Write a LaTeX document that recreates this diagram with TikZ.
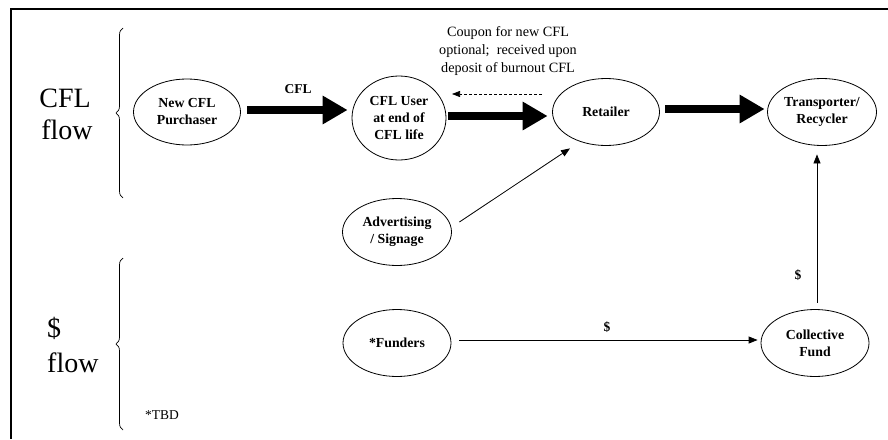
\documentclass[tikz,border=0pt]{standalone}
\usepackage{fontspec}
\setmainfont{Liberation Serif}
\usetikzlibrary{shapes.geometric,arrows.meta,decorations.pathreplacing}
\tikzset{
  ell/.style={draw, ellipse, line width=0.8pt, inner sep=0pt, align=center,
    font=\fontsize{13.8}{17}\selectfont\bfseries},
  bigarrow/.style={line width=8pt, -{Triangle[length=25pt,width=27pt]}},
  thinarrow/.style={line width=0.8pt, -{Triangle[length=9pt,width=7pt]}},
  lbl/.style={font=\fontsize{13.5}{17}\selectfont\bfseries, inner sep=0pt},
  big/.style={font=\fontsize{28}{32}\selectfont, inner sep=0pt},
  brc/.style={decorate, decoration={brace, amplitude=7pt}, line width=0.7pt},
}
\begin{document}
\begin{tikzpicture}[x=1pt,y=-1pt]
\useasboundingbox (0,0) rectangle (888,439);
\draw[line width=1.6pt] (888,9) -- (11,9) -- (11,439);

% side labels
\node[big, anchor=base] (t1) at (65,107) {CFL};
\node[big, anchor=base] (t2) at (67,139) {flow};
\node[big, anchor=base west] (t3) at (47,337) {\$};
\node[big, anchor=base west] (t4) at (47,372) {flow};
\node[font=\fontsize{13.5}{16}\selectfont, anchor=base west, inner sep=0pt] (tbd) at (145,419) {*TBD};

% braces
\draw[brc] (123,198) -- (123,28);
\draw[brc] (123,430) -- (123,258);

% nodes
\node[ell, minimum width=107pt, minimum height=66pt] (ncp) at (187,112) {New CFL\\Purchaser};
\node[ell, minimum width=94pt, minimum height=84pt] (user) at (399,118) {CFL User\\at end of\\CFL life};
\node[ell, minimum width=107pt, minimum height=67pt] (ret) at (606,112) {Retailer};
\node[ell, minimum width=109pt, minimum height=67pt] (trans) at (822,112) {Transporter/\\Recycler};
\node[ell, minimum width=109pt, minimum height=67pt] (adv) at (397,232) {Advertising\\/ Signage};
\node[ell, minimum width=108pt, minimum height=67pt] (fund) at (397,343) {*Funders};
\node[ell, minimum width=108pt, minimum height=67pt] (coll) at (815,343) {Collective\\Fund};

% big arrows
\draw[bigarrow] ([xshift=6.5pt,yshift=2pt]ncp.east) -- ([xshift=-4pt,yshift=2pt]ncp.east -| user.west);
\node[lbl] (lcfl) at (298,89) {CFL};
\draw[bigarrow] ([xshift=2pt,yshift=2pt]user.east) -- ([xshift=-4.5pt,yshift=2pt]user.east -| ret.west);
\draw[bigarrow] ([xshift=5.5pt,yshift=3pt]ret.east) -- ([xshift=-2.5pt,yshift=3pt]ret.east -| trans.west);

% coupon
\coordinate (c1) at (542,94);
\coordinate (c2) at (452,94);
\draw[line width=0.7pt, dash pattern=on 3pt off 2pt, -{Triangle[length=8pt,width=6pt]}] (c1) -- (c2);
\node[font=\fontsize{14.2}{18}\selectfont, align=center, inner sep=0pt] (coupon) at (508,51)
  {Coupon for new CFL\\optional;~ received upon\\deposit of burnout CFL};

% thin arrows
\draw[thinarrow] ([xshift=7.5pt,yshift=10pt]adv.east) -- ([xshift=-36pt,yshift=-2.5pt]ret.south);
\draw[thinarrow] ([xshift=8pt,yshift=3pt]fund.east) -- ([xshift=-3pt,yshift=3pt]fund.east -| coll.west);
\node[lbl] (ld1) at (607,327) {\$};
\draw[thinarrow] ([xshift=2pt,yshift=6.5pt]coll.north) -- ([xshift=2pt,yshift=-8.5pt]coll.north |- trans.south);
\node[lbl] (ld2) at (798,275) {\$};
\end{tikzpicture}
\end{document}
